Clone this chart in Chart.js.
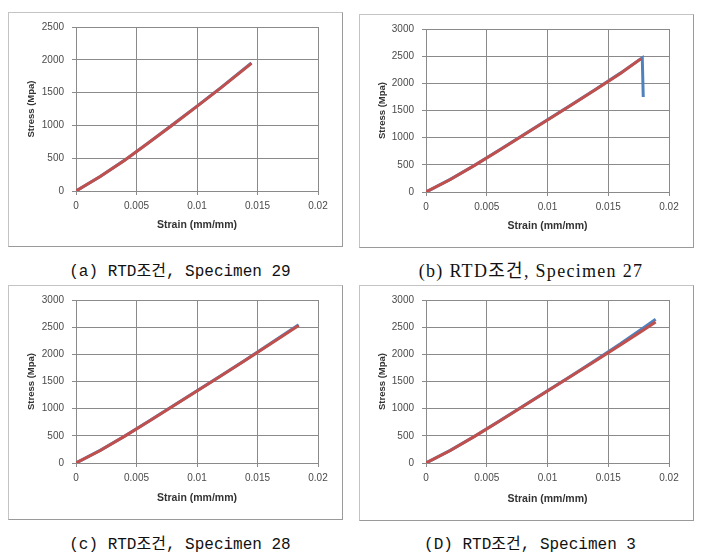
<!DOCTYPE html>
<html>
<head>
<meta charset="utf-8">
<script src="https://cdn.jsdelivr.net/npm/chart.js@4.4.1/dist/chart.umd.min.js"></script>
<style>
  html, body { margin: 0; padding: 0; background: #ffffff; }
  body { width: 703px; height: 554px; position: relative; overflow: hidden; }
  .panel { position: absolute; box-sizing: border-box; border: 1px solid #c4c4c4; border-right-color: #9a9a9a; border-bottom-color: #9a9a9a; background: #fff; }
  .panel canvas { display: block; }
  .cap { position: absolute; height: 20px; line-height: 20px; text-align: center; color: #111; white-space: pre; }
  .mono { font-family: "Liberation Mono", "Noto Sans CJK KR", monospace; font-size: 16px; }
  .serif { font-family: "Liberation Serif", "Noto Sans CJK KR", serif; font-size: 18px; letter-spacing: 1.3px; }
</style>
</head>
<body>
<div class="panel" id="pa" style="left:8px;top:12px;width:335px;height:235px;"><canvas id="ca" width="333" height="233"></canvas></div>
<div class="panel" id="pb" style="left:359px;top:14px;width:335px;height:234px;"><canvas id="cb" width="333" height="232"></canvas></div>
<div class="panel" id="pc" style="left:8px;top:285px;width:335px;height:235px;"><canvas id="cc" width="333" height="233"></canvas></div>
<div class="panel" id="pd" style="left:359px;top:285px;width:335px;height:236px;"><canvas id="cd" width="333" height="234"></canvas></div>

<div class="cap mono" style="left:30px;width:300px;top:262px;">(a) RTD조건, Specimen 29</div>
<div class="cap serif" style="left:381px;width:300px;top:261px;">(b) RTD조건, Specimen 27</div>
<div class="cap mono" style="left:30px;width:300px;top:535px;">(c) RTD조건, Specimen 28</div>
<div class="cap mono" style="left:380px;width:300px;top:535px;">(D) RTD조건, Specimen 3</div>

<script>
// ---- data ----
const xTicks = [0, 0.005, 0.01, 0.015, 0.02];
const xTickLabels = ['0', '0.005', '0.01', '0.015', '0.02'];
const xAxisTitle = 'Strain (mm/mm)';
const yAxisTitle = 'Stress (Mpa)';

// (a) Specimen 29
const strain29 = [0, 0.002, 0.004, 0.006, 0.008, 0.010, 0.012, 0.0145];
const stress29Red = [0, 220, 465, 735, 1010, 1290, 1575, 1945];
const stress29Blue = [0, 222, 467, 737, 1013, 1293, 1580, 1953];

// (b) Specimen 27
const strain27Red = [0, 0.002, 0.004, 0.006, 0.008, 0.010, 0.012, 0.014, 0.016, 0.0177];
const stress27Red = [0, 230, 490, 765, 1045, 1325, 1605, 1890, 2180, 2455];
const strain27Blue = [0, 0.002, 0.004, 0.006, 0.008, 0.010, 0.012, 0.014, 0.016, 0.0178, 0.01788];
const stress27Blue = [0, 232, 492, 768, 1048, 1328, 1610, 1895, 2188, 2470, 1750];

// (c) Specimen 28
const strain28 = [0, 0.002, 0.004, 0.006, 0.008, 0.010, 0.012, 0.014, 0.016, 0.0184];
const stress28Red = [0, 230, 490, 765, 1045, 1325, 1605, 1890, 2180, 2530];
const stress28Blue = [0, 232, 492, 768, 1048, 1328, 1610, 1897, 2190, 2545];

// (D) Specimen 3
const strain3 = [0, 0.002, 0.004, 0.006, 0.008, 0.010, 0.012, 0.014, 0.016, 0.018, 0.0189];
const stress3Red = [0, 230, 490, 765, 1045, 1325, 1605, 1885, 2170, 2460, 2595];
const stress3Blue = [0, 232, 493, 770, 1050, 1330, 1612, 1900, 2195, 2505, 2645];

const yMaxA = 2500, yMaxOther = 3000, yStep = 500;

// ---- styles ----
const RED = '#c0504d';
const BLUE = '#4f81bd';
const GRID = '#8a8a8a';

function pts(xs, ys) { return xs.map((x, i) => ({ x: x, y: ys[i] })); }

function makeChart(id, redX, redY, blueX, blueY, yMax, geo) {
  new Chart(document.getElementById(id), {
    type: 'scatter',
    data: {
      datasets: [
        { data: pts(redX, redY), showLine: true, borderColor: RED, backgroundColor: RED, borderWidth: 3, pointRadius: 0, tension: 0 },
        { data: pts(blueX, blueY), showLine: true, borderColor: BLUE, backgroundColor: BLUE, borderWidth: 3, pointRadius: 0, tension: 0 }
      ]
    },
    options: {
      responsive: false,
      animation: false,
      events: [],
      layout: { padding: { left: 0, top: geo.top, right: geo.right, bottom: 0 } },
      plugins: { legend: { display: false }, tooltip: { enabled: false } },
      scales: {
        x: {
          type: 'linear', min: 0, max: 0.02,
          afterBuildTicks: s => { s.ticks = xTicks.map(v => ({ value: v })); },
          afterFit: s => { s.height = geo.bottom; },
          ticks: {
            callback: (v) => { const i = xTicks.indexOf(v); return i >= 0 ? xTickLabels[i] : ''; },
            color: '#4a4a4a', padding: 5, maxRotation: 0,
            font: { family: 'Liberation Sans', size: 10 }
          },
          grid: { color: GRID, lineWidth: 1, tickLength: 4, drawTicks: true },
          border: { color: GRID, width: 1 },
          title: { display: true, text: xAxisTitle, color: '#333', padding: { top: 0, bottom: 14.5 },
                   font: { family: 'Liberation Sans', size: 10.5, weight: 'bold' } }
        },
        y: {
          type: 'linear', min: 0, max: yMax,
          afterFit: s => { s.width = geo.left; },
          ticks: { stepSize: yStep, color: '#4a4a4a', padding: 8,
                   callback: (v) => String(v),
                   font: { family: 'Liberation Sans', size: 10 } },
          grid: { color: GRID, lineWidth: 1, tickLength: 4, drawTicks: true },
          border: { color: GRID, width: 1 },
          title: { display: true, text: yAxisTitle, color: '#333', padding: { top: 17, bottom: 0 },
                   font: { family: 'Liberation Sans', size: 9.5, weight: 'bold' } }
        }
      }
    }
  });
}

makeChart('ca', strain29, stress29Red, strain29, stress29Blue, yMaxA, { left: 67, right: 24, top: 11, bottom: 55 });
makeChart('cb', strain27Red, stress27Red, strain27Blue, stress27Blue, yMaxOther, { left: 66, right: 24, top: 11, bottom: 55 });
makeChart('cc', strain28, stress28Red, strain28, stress28Blue, yMaxOther, { left: 67, right: 24, top: 12, bottom: 56 });
makeChart('cd', strain3, stress3Red, strain3, stress3Blue, yMaxOther, { left: 66, right: 24, top: 13, bottom: 57 });
</script>
</body>
</html>
